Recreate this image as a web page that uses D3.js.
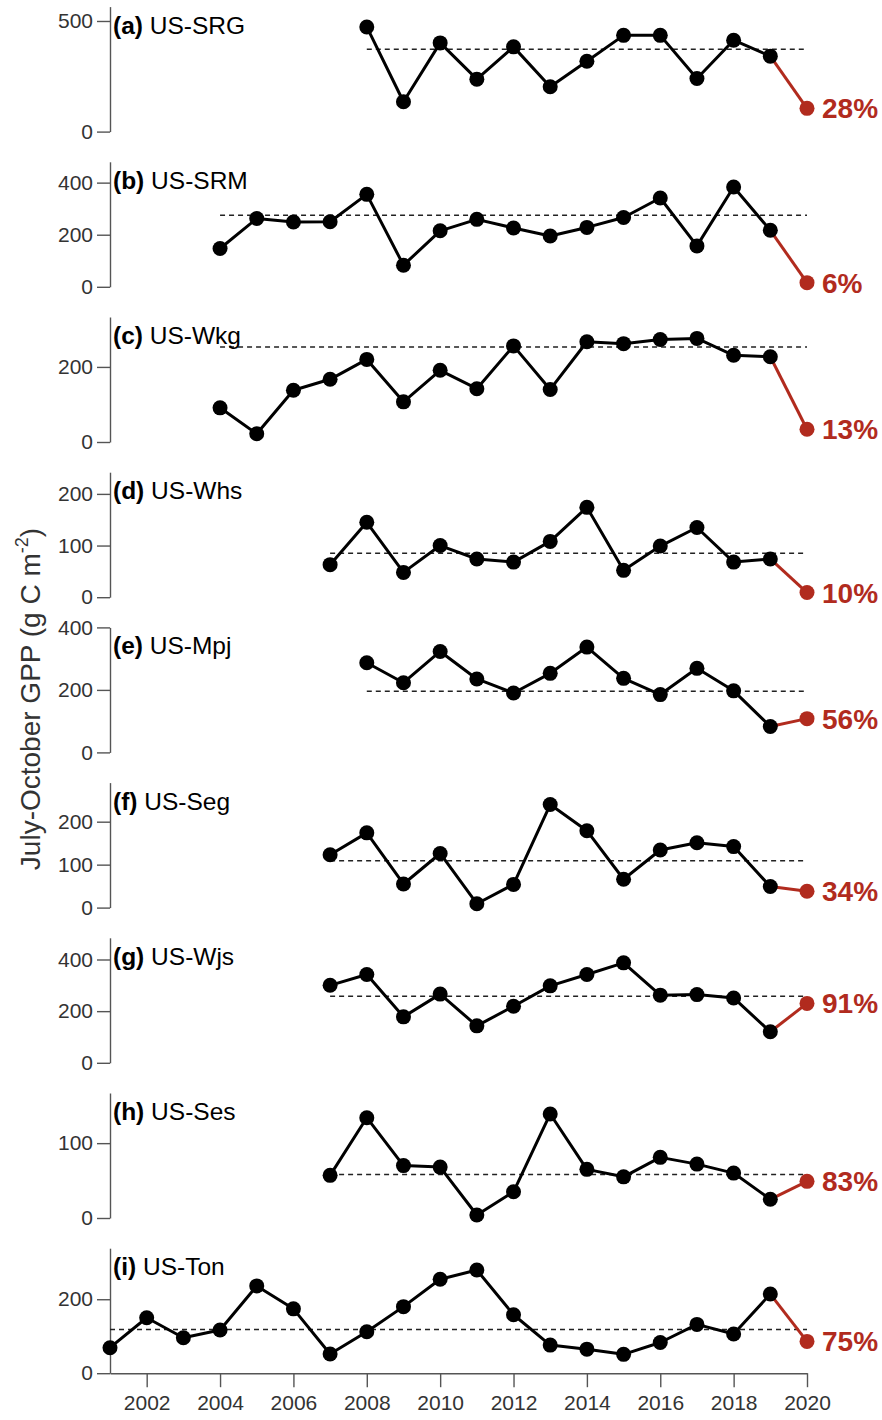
<!DOCTYPE html>
<html>
<head>
<meta charset="utf-8">
<script src="https://cdn.jsdelivr.net/npm/d3@7"></script>
<style>
  body { margin: 0; background: #fff; }
  svg text { font-family: "Liberation Sans", Arial, Helvetica, sans-serif; }
</style>
</head>
<body>
<svg id="chart" width="882" height="1420"></svg>
<script>
// Site names and panel letters
const sites = ["US-SRG", "US-SRM", "US-Wkg", "US-Whs", "US-Mpj", "US-Seg", "US-Wjs", "US-Ses", "US-Ton"];
const letters = ["a", "b", "c", "d", "e", "f", "g", "h", "i"];
const startYears = [2008, 2004, 2004, 2007, 2008, 2007, 2007, 2007, 2001];

// July-October GPP, one value per year from startYear to 2020
const gppSRG = [473, 135, 401, 237, 383, 203, 318, 435, 435, 240, 413, 341, 105];
const gppSRM = [147, 262, 249, 250, 355, 83, 215, 259, 226, 195, 228, 266, 341, 157, 383, 217, 16];
const gppWkg = [91, 22, 138, 167, 220, 107, 191, 142, 256, 140, 267, 262, 273, 276, 231, 227, 34];
const gppWhs = [63, 145, 48, 100, 74, 68, 108, 174, 52, 99, 135, 68, 74, 9];
const gppMpj = [287, 223, 323, 235, 190, 253, 337, 237, 185, 269, 197, 83, 108];
const gppSeg = [123, 174, 55, 126, 9, 54, 240, 179, 66, 134, 151, 142, 49, 38];
const gppWjs = [300, 342, 178, 266, 143, 219, 298, 342, 387, 262, 264, 251, 120, 230];
const gppSes = [57, 134, 70, 68, 4, 35, 139, 65, 55, 81, 72, 60, 25, 49];
const gppTon = [69, 150, 96, 117, 236, 174, 52, 112, 180, 254, 279, 158, 76, 65, 51, 83, 132, 106, 214, 86];
const series = [gppSRG, gppSRM, gppWkg, gppWhs, gppMpj, gppSeg, gppWjs, gppSes, gppTon];

// Long-term mean (dashed line) and 2020 percentage of mean
const means = [372, 275, 253, 85, 196, 109, 258, 58, 118];
const pctLabels = ["28%", "6%", "13%", "10%", "56%", "34%", "91%", "83%", "75%"];

// Axis setup
const yMax = [565, 480, 333, 242, 400, 291, 484, 167, 338];
const yTicks = [[0, 500], [0, 200, 400], [0, 200], [0, 100, 200], [0, 200, 400], [0, 100, 200], [0, 200, 400], [0, 100], [0, 200]];
const xTicks = [2002, 2004, 2006, 2008, 2010, 2012, 2014, 2016, 2018, 2020];

const svg = d3.select("#chart");
const red = "#b12b1e";
const left = 110, right = 807;
const panelH = 125, firstZero = 131.6, step = 155.2;

const x = d3.scaleLinear().domain([2001, 2020]).range([left, right]);

sites.forEach((site, i) => {
  const zero = firstZero + i * step;
  const y = d3.scaleLinear().domain([0, yMax[i]]).range([zero, zero - panelH]);
  const data = series[i].map((v, j) => ({ year: startYears[i] + j, v: v }));
  const g = svg.append("g").attr("class", "panel");

  // y axis
  const yAxis = d3.axisLeft(y).tickValues(yTicks[i]).tickSize(13).tickPadding(4).tickSizeOuter(0);
  const ya = g.append("g").attr("transform", `translate(${left},0)`).call(yAxis);
  ya.select(".domain").attr("stroke", "#555").attr("stroke-width", 1.4);
  ya.selectAll(".tick line").attr("stroke", "#555").attr("stroke-width", 1.4);
  ya.selectAll(".tick text").attr("font-size", 21).attr("fill", "#333");

  // x axis only on last panel
  if (i === sites.length - 1) {
    const xAxis = d3.axisBottom(x).tickValues(xTicks).tickFormat(d3.format("d"))
      .tickSize(14).tickPadding(8).tickSizeOuter(0);
    const xa = g.append("g").attr("transform", `translate(0,${zero})`).call(xAxis);
    xa.select(".domain").attr("stroke", "#555").attr("stroke-width", 1.4);
    xa.selectAll(".tick line").attr("stroke", "#555").attr("stroke-width", 1.4);
    xa.selectAll(".tick text").attr("font-size", 21).attr("fill", "#333");
  }

  // mean dashed line
  g.append("line")
    .attr("x1", x(data[0].year)).attr("x2", x(2020))
    .attr("y1", y(means[i])).attr("y2", y(means[i]))
    .attr("stroke", "#222").attr("stroke-width", 1.5).attr("stroke-dasharray", "5,4");

  const line = d3.line().x(d => x(d.year)).y(d => y(d.v));
  const hist = data.slice(0, -1);
  const last2 = data.slice(-2);

  g.append("path").datum(last2).attr("d", line)
    .attr("fill", "none").attr("stroke", red).attr("stroke-width", 3);
  g.append("path").datum(hist).attr("d", line)
    .attr("fill", "none").attr("stroke", "#000").attr("stroke-width", 3).attr("stroke-linejoin", "round");

  g.selectAll("circle").data(data).join("circle")
    .attr("cx", d => x(d.year)).attr("cy", d => y(d.v)).attr("r", 7.5)
    .attr("fill", d => d.year === 2020 ? red : "#000");

  // percentage label
  const lastPt = data[data.length - 1];
  g.append("text")
    .attr("x", x(2020) + 15).attr("y", y(lastPt.v))
    .attr("dy", "0.36em")
    .attr("font-size", 28).attr("font-weight", "bold").attr("fill", red)
    .text(pctLabels[i]);

  // panel title
  const t = g.append("text")
    .attr("x", left + 3).attr("y", zero - panelH + 27)
    .attr("font-size", 24.5).attr("fill", "#000");
  t.append("tspan").attr("font-weight", "bold").text(`(${letters[i]})`);
  t.append("tspan").text(" " + site);
});

// y axis title
const yl = svg.append("text")
  .attr("transform", "translate(40,699) rotate(-90)")
  .attr("text-anchor", "middle")
  .attr("font-size", 28).attr("fill", "#333");
yl.append("tspan").text("July-October GPP (g C m");
yl.append("tspan").attr("font-size", 18).attr("dy", -12).text("-2");
yl.append("tspan").attr("dy", 12).text(")");
</script>
</body>
</html>
